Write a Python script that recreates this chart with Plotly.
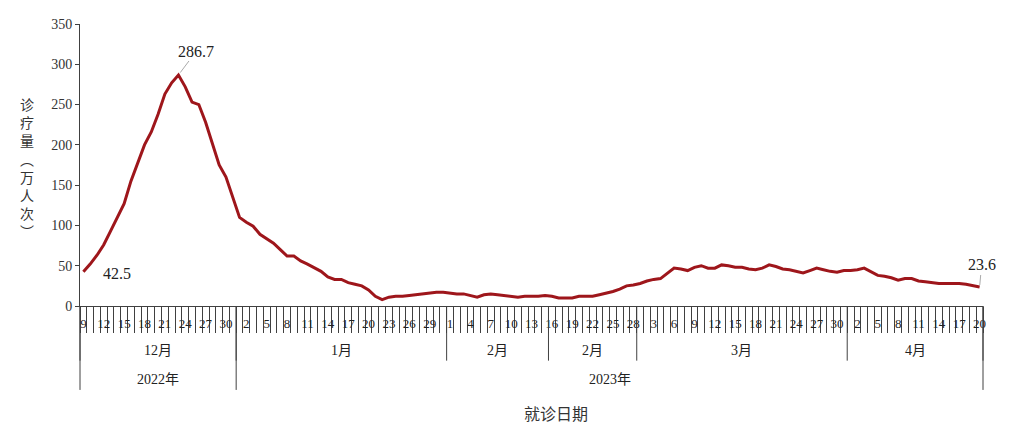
import pandas as pd
import plotly.graph_objects as go

# dzienne wartości (万人次)
dec_vals = [42.5, 52, 63, 76, 93, 110, 127, 155, 178, 200, 216, 238, 263, 277, 286.7,
            272, 253, 250, 228, 200, 175, 160, 135]
jan_vals = [110, 104, 99, 89, 84, 78, 70, 62, 62, 56, 52, 47, 43, 36, 33, 33, 29, 27, 25, 20,
            12, 8, 11, 12, 12, 13, 14, 15, 16, 17, 17]
feb_vals = [16, 15, 15, 13, 11, 14, 15, 14, 13, 12, 11, 12, 12, 12, 13, 12, 10, 10, 10, 12,
            12, 12, 14, 16, 18, 21, 25, 26]
mar_vals = [28, 31, 33, 34, 40, 47, 46, 44, 48, 50, 47, 47, 51, 50, 48, 48, 46, 45, 47, 51,
            49, 46, 45, 43, 41, 44, 47, 45, 43, 42, 44]
apr_vals = [44, 45, 47, 42, 38, 37, 35, 32, 34, 34, 31, 30, 29, 28, 28, 28, 28, 27, 25, 23.6]

start_date = '2022-12-09'
end_date = '2023-04-20'

# grupy na osi x (miesiące - luty jest podzielony jak w oryginale)
month_starts = ['2022-12-09', '2023-01-01', '2023-02-01', '2023-02-16', '2023-03-01', '2023-04-01']
month_names = ['12月', '1月', '2月', '2月', '3月', '4月']
year_starts = ['2022-12-09', '2023-01-01']
year_names = ['2022年', '2023年']

labels_on = [('2022-12-09', 'left'), ('2022-12-23', 'peak'), ('2023-04-20', 'end')]

values = dec_vals + jan_vals + feb_vals + mar_vals + apr_vals
dates = pd.date_range(start_date, end_date, freq='D')
idx = list(range(len(dates)))
n = len(dates)

red = '#9e161b'
axis_color = '#404040'
serif = 'Liberation Serif, Noto Sans CJK SC'
txt_color = '#222222'

# strona ma 8px marginesu, więc figura jest trochę mniejsza
W, H = 1010, 420
L, T, R, B = 72, 9, 35, 122
plot_w = W - L - R
plot_h = H - T - B

fig = go.Figure()
fig.add_trace(go.Scatter(x=idx, y=values, mode='lines',
                         line=dict(color=red, width=3), hoverinfo='x+y'))

tick_pos = idx[::3]
tick_txt = [str(d.day) for d in dates[::3]]

fig.update_layout(
    width=W, height=H,
    margin=dict(l=L, r=R, t=T, b=B),
    plot_bgcolor='white', paper_bgcolor='white',
    showlegend=False,
    font=dict(family=serif, size=14, color='#333333'),
)
fig.update_xaxes(range=[-0.5, n - 0.5], showgrid=False, zeroline=False,
                 showline=True, linecolor=axis_color, linewidth=1,
                 tickmode='array', tickvals=tick_pos, ticktext=tick_txt,
                 ticks='outside', ticklen=5, tickcolor='rgba(0,0,0,0)',
                 tickfont=dict(family=serif, size=13, color=txt_color),
                 minor=dict(tick0=-0.5, dtick=1, ticks='outside', ticklen=26,
                            tickcolor=axis_color, tickwidth=1, showgrid=False))
fig.update_yaxes(range=[0, 350], dtick=50, showgrid=False, zeroline=False,
                 showline=True, linecolor=axis_color, linewidth=1,
                 ticks='outside', ticklen=4, tickcolor=axis_color,
                 tickfont=dict(family=serif, size=14, color='#333333'))


def below(px):
    # px pikseli pod osią x -> współrzędne paper
    return -px / plot_h


# podział na miesiące
m_edges = [dates.get_loc(pd.Timestamp(d)) for d in month_starts] + [n]
for e in m_edges:
    fig.add_shape(type='line', xref='paper', yref='paper', x0=e / n, x1=e / n,
                  y0=0, y1=below(56), line=dict(color=axis_color, width=1))
for k, name in enumerate(month_names):
    fig.add_annotation(xref='paper', yref='paper', x=(m_edges[k] + m_edges[k + 1]) / 2 / n,
                       y=below(46), text=name, showarrow=False,
                       xanchor='center', yanchor='middle',
                       font=dict(family=serif, size=14, color=txt_color))

# podział na lata
y_edges = [dates.get_loc(pd.Timestamp(d)) for d in year_starts] + [n]
for e in y_edges:
    fig.add_shape(type='line', xref='paper', yref='paper', x0=e / n, x1=e / n,
                  y0=0, y1=below(86), line=dict(color=axis_color, width=1))
for k, name in enumerate(year_names):
    fig.add_annotation(xref='paper', yref='paper', x=(y_edges[k] + y_edges[k + 1]) / 2 / n,
                       y=below(75), text=name, showarrow=False,
                       xanchor='center', yanchor='middle',
                       font=dict(family=serif, size=14, color=txt_color))

# opisy wartości
for d, kind in labels_on:
    i = dates.get_loc(pd.Timestamp(d))
    v = values[i]
    txt = f'{v:.1f}'
    if kind == 'left':
        fig.add_annotation(x=i, y=v, text=txt, showarrow=False, xshift=34, yshift=-2,
                           font=dict(family=serif, size=16, color=txt_color))
    elif kind == 'peak':
        fig.add_annotation(x=i, y=v, text=txt, showarrow=True, arrowhead=0, arrowwidth=1,
                           arrowcolor='#aaaaaa', ax=18, ay=-24, standoff=3,
                           font=dict(family=serif, size=16, color=txt_color))
    else:
        fig.add_annotation(x=i, y=v, text=txt, showarrow=True, arrowhead=0, arrowwidth=1,
                           arrowcolor='#aaaaaa', ax=2, ay=-22, standoff=2,
                           font=dict(family=serif, size=16, color=txt_color))

# tytuły osi
fig.add_annotation(xref='paper', yref='paper', x=-53 / plot_w, y=(306 - 164) / plot_h,
                   xanchor='center', yanchor='middle',
                   text='<br>'.join('诊疗量︵万人次︶'), showarrow=False,
                   font=dict(family='Noto Sans CJK SC', size=14, color='#333333'))
fig.add_annotation(xref='paper', yref='paper', x=(556 - 80) / plot_w, y=below(110),
                   xanchor='center', yanchor='middle',
                   text='就诊日期', showarrow=False,
                   font=dict(family='Noto Sans CJK SC', size=16, color='#333333'))

fig.write_html('out.html')
